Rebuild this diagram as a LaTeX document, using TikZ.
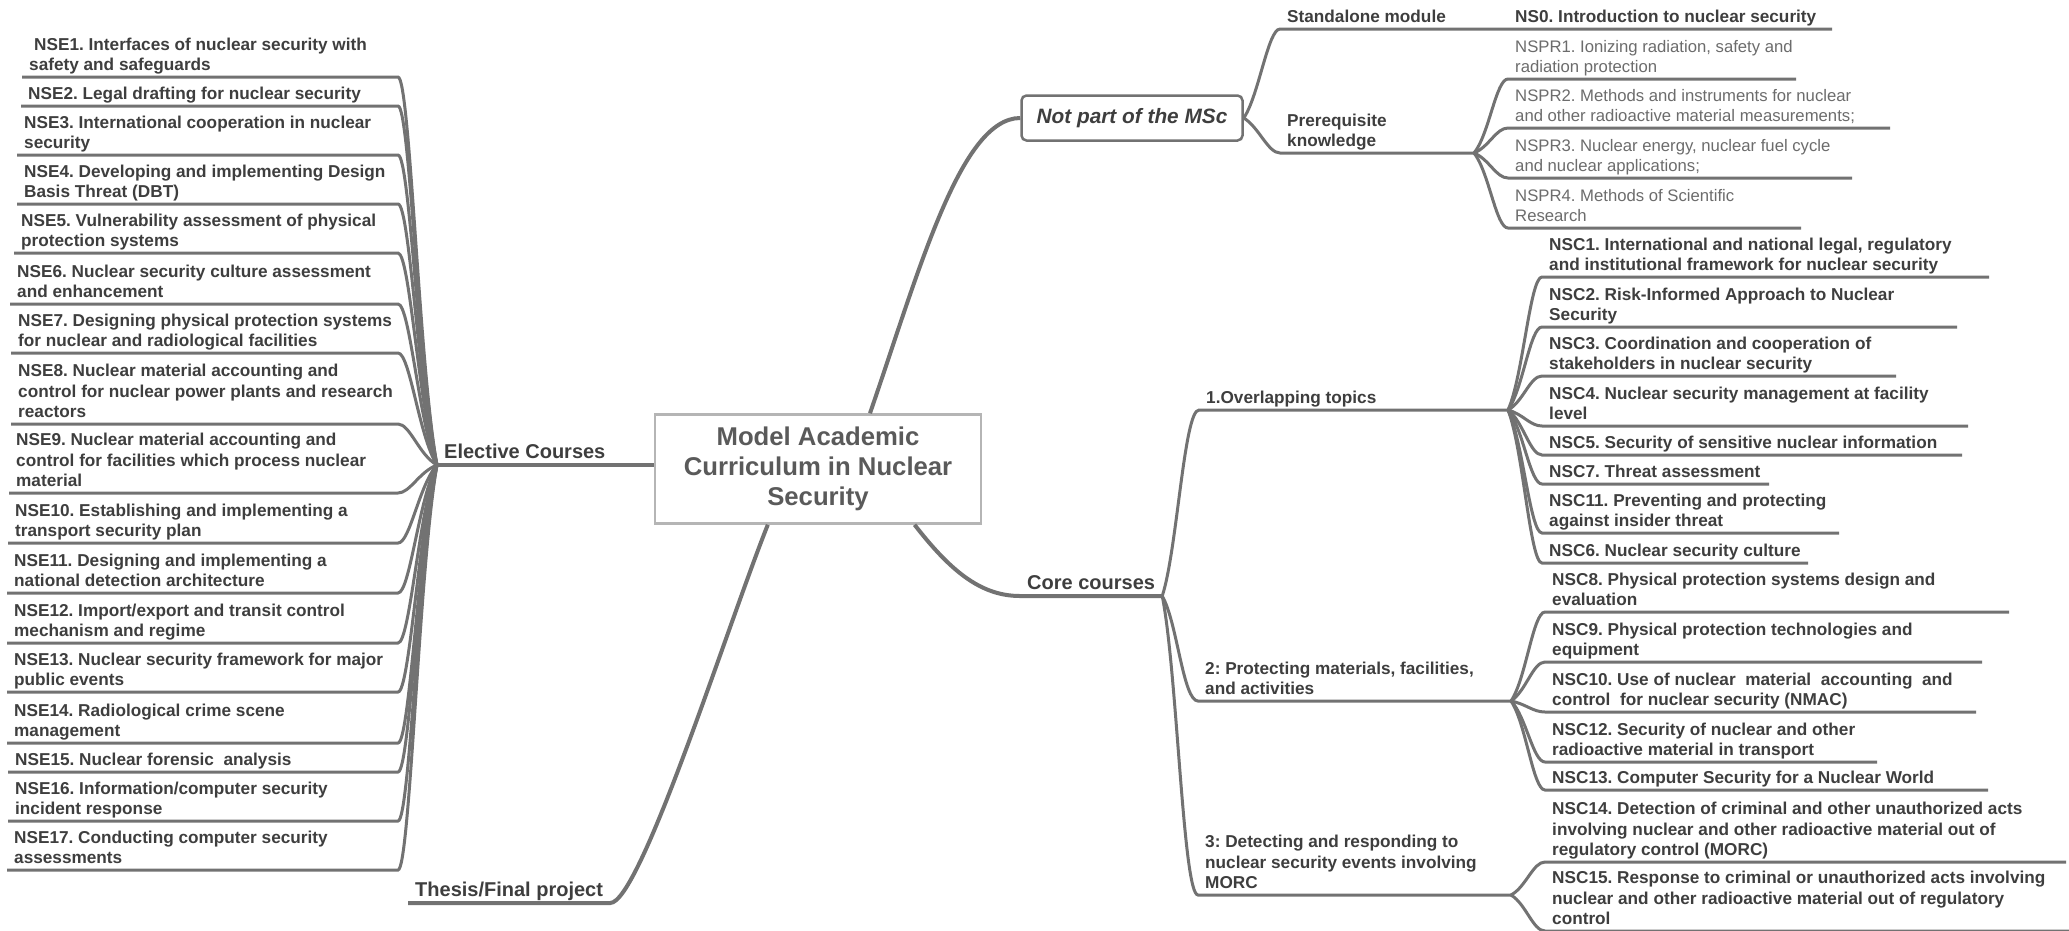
\documentclass[tikz,border=0pt]{standalone}
\usepackage{fontspec}
\setmainfont{Liberation Sans}
\usepackage{xcolor}
\frenchspacing

\definecolor{linegray}{HTML}{727272}
\definecolor{textgray}{HTML}{3E3E3E}
\definecolor{nsprgray}{HTML}{6C6C6C}
\definecolor{boxgray}{HTML}{B5B5B5}
\definecolor{rootgray}{HTML}{5A5A5A}

\begin{document}
\begin{tikzpicture}[
    x=1pt, y=-1pt,
    topic/.style={rectangle, draw=boxgray, line width=2.5pt, fill=white, minimum width=326pt, minimum height=109pt, align=center, font=\fontsize{25.7}{30}\selectfont\bfseries, text=rootgray},
    msc/.style={rectangle, rounded corners=5pt, draw=linegray, line width=2.5pt, fill=white, minimum width=221pt, minimum height=45pt, font=\fontsize{20.8}{24}\selectfont\bfseries\itshape, text=textgray},
    branch/.style={anchor=south west, inner xsep=7pt, inner ysep=0pt, text depth=6pt, font=\fontsize{20}{24}\selectfont\bfseries, text=textgray},
    leaf/.style={anchor=south west, inner xsep=7pt, inner ysep=0pt, text depth=6pt, align=left, font=\fontsize{17.2}{20.5}\selectfont\bfseries, text=textgray},
    nspr/.style={leaf, font=\fontsize{16.7}{20.5}\selectfont, text=nsprgray},
    link/.style={draw=linegray, line width=3pt},
    trunk/.style={link, line width=4pt},
]
\useasboundingbox[fill=white] (0,0) rectangle (2069,930);

\node[topic] (root) at (818,469) {Model Academic\\Curriculum in Nuclear\\Security};
\node[msc] (nmsc) at (1132,118) {Not part of the MSc};

\node[branch] (elec) at (437,465) {Elective Courses};
\node[branch] (thes) at (408,903) {Thesis/Final project};
\node[branch] (core) at (1020,596) {Core courses};

\node[leaf] (stand) at (1280,29) {Standalone module};
\node[leaf] (prq) at (1280,153) {Prerequisite\\knowledge};
\node[leaf] (ovl) at (1199,410) {1.Overlapping topics};
\node[leaf] (prot) at (1198,701) {2: Protecting materials, facilities,\\and activities};
\node[leaf] (dtct) at (1198,895) {3: Detecting and responding to\\nuclear security events involving\\MORC};

\coordinate (eend) at (398,465);
\coordinate (prqhub) at (1474,153);
\coordinate (ovlhub) at (1508,410);
\coordinate (prothub) at (1511,701);
\coordinate (dtcthub) at (1511,895);

% elective courses
\node[leaf] (e1) at (22,77) {\hspace*{5pt}NSE1. Interfaces of nuclear security with\\safety and safeguards};
\node[leaf] (e2) at (21,106) {NSE2. Legal drafting for nuclear security};
\node[leaf] (e3) at (17,155) {NSE3. International cooperation in nuclear\\security};
\node[leaf] (e4) at (17,204) {NSE4. Developing and implementing Design\\Basis Threat (DBT)};
\node[leaf] (e5) at (14,253) {NSE5. Vulnerability assessment of physical\\protection systems};
\node[leaf] (e6) at (10,304) {NSE6. Nuclear security culture assessment\\and enhancement};
\node[leaf] (e7) at (11,353) {NSE7. Designing physical protection systems\\for nuclear and radiological facilities};
\node[leaf] (e8) at (11,424) {NSE8. Nuclear material accounting and\\control for nuclear power plants and research\\reactors};
\node[leaf] (e9) at (9,493) {NSE9. Nuclear material accounting and\\control for facilities which process nuclear\\material};
\node[leaf] (e10) at (8,543) {NSE10. Establishing and implementing a\\transport security plan};
\node[leaf] (e11) at (7,593) {NSE11. Designing and implementing a\\national detection architecture};
\node[leaf] (e12) at (7,643) {NSE12. Import/export and transit control\\mechanism and regime};
\node[leaf] (e13) at (7,692) {NSE13. Nuclear security framework for major\\public events};
\node[leaf] (e14) at (7,743) {NSE14. Radiological crime scene\\management};
\node[leaf] (e15) at (8,772) {NSE15. Nuclear forensic\ \ analysis};
\node[leaf] (e16) at (8,821) {NSE16. Information/computer security\\incident response};
\node[leaf] (e17) at (7,870) {NSE17. Conducting computer security\\assessments};

% not part of the MSc
\node[leaf] (ns0) at (1508,29) {NS0. Introduction to nuclear security};
\node[nspr] (pr1) at (1508,79) {NSPR1. Ionizing radiation, safety and\\radiation protection};
\node[nspr] (pr2) at (1508,128) {NSPR2. Methods and instruments for nuclear\\and other radioactive material measurements;};
\node[nspr] (pr3) at (1508,178) {NSPR3. Nuclear energy, nuclear fuel cycle\\and nuclear applications;};
\node[nspr] (pr4) at (1508,228) {NSPR4. Methods of Scientific\\Research};

% core courses
\node[leaf] (c1) at (1542,277) {NSC1. International and national legal, regulatory\\and institutional framework for nuclear security};
\node[leaf] (c2) at (1542,327) {NSC2. Risk-Informed Approach to Nuclear\\Security};
\node[leaf] (c3) at (1542,376) {NSC3. Coordination and cooperation of\\stakeholders in nuclear security};
\node[leaf] (c4) at (1542,426) {NSC4. Nuclear security management at facility\\level};
\node[leaf] (c5) at (1542,455) {NSC5. Security of sensitive nuclear information};
\node[leaf] (c7) at (1542,484) {NSC7. Threat assessment};
\node[leaf] (c11) at (1542,533) {NSC11. Preventing and protecting\\against insider threat};
\node[leaf] (c6) at (1542,563) {NSC6. Nuclear security culture};
\node[leaf] (c8) at (1545,612) {NSC8. Physical protection systems design and\\evaluation};
\node[leaf] (c9) at (1545,662) {NSC9. Physical protection technologies and\\equipment};
\node[leaf] (c10) at (1545,712) {NSC10. Use of nuclear\ \ material\ \ accounting\ \ and\\control\ \ for nuclear security (NMAC)};
\node[leaf] (c12) at (1545,762) {NSC12. Security of nuclear and other\\radioactive material in transport};
\node[leaf] (c13) at (1545,790) {NSC13. Computer Security for a Nuclear World};
\node[leaf] (c14) at (1545,862) {NSC14. Detection of criminal and other unauthorized acts\\involving nuclear and other radioactive material out of\\regulatory control (MORC)};
\node[leaf] (c15) at (1545,931) {NSC15. Response to criminal or unauthorized acts involving\\nuclear and other radioactive material out of regulatory\\control};

% main branches
\draw[trunk] (elec.south west) -- (elec.south west -| root.west);
\draw[trunk] (root.47) .. controls +(49,-142) and +(-60,0) .. (nmsc.west);
\draw[trunk] (root.330) .. controls +(35,45) and +(-40,0) .. (core.south west) -- (core.south east);
\draw[trunk] (root.228) .. controls +(-40,100) and +(30,0) .. (thes.south east) -- (thes.south west);

\draw[link] (nmsc.east) .. controls +(15,-22) and +(-12,0) .. (stand.south west) -- (ns0.south west) -- ++(324,0);
\draw[link] (nmsc.east) .. controls +(15,9) and +(-12,0) .. (prq.south west) -- (prqhub);
\draw[link] (core.south east) .. controls +(15,-46) and +(-15,0) .. (ovl.south west) -- (ovlhub);
\draw[link] (core.south east) .. controls +(15,26) and +(-15,0) .. (prot.south west) -- (prothub);
\draw[link] (core.south east) .. controls +(15,75) and +(-15,0) .. (dtct.south west) -- (dtcthub);

\draw[link] (elec.south west) .. controls +(-18,-97) and +(12,0) .. (e1.south west -| eend) -- (e1.south west);
\draw[link] (elec.south west) .. controls +(-18,-90) and +(12,0) .. (e2.south west -| eend) -- (e2.south west);
\draw[link] (elec.south west) .. controls +(-18,-78) and +(12,0) .. (e3.south west -| eend) -- (e3.south west);
\draw[link] (elec.south west) .. controls +(-18,-65) and +(12,0) .. (e4.south west -| eend) -- (e4.south west);
\draw[link] (elec.south west) .. controls +(-18,-53) and +(12,0) .. (e5.south west -| eend) -- (e5.south west);
\draw[link] (elec.south west) .. controls +(-18,-40) and +(12,0) .. (e6.south west -| eend) -- (e6.south west);
\draw[link] (elec.south west) .. controls +(-18,-28) and +(12,0) .. (e7.south west -| eend) -- (e7.south west);
\draw[link] (elec.south west) .. controls +(-18,-10) and +(12,0) .. (e8.south west -| eend) -- (e8.south west);
\draw[link] (elec.south west) .. controls +(-18,7) and +(12,0) .. (e9.south west -| eend) -- (e9.south west);
\draw[link] (elec.south west) .. controls +(-18,20) and +(12,0) .. (e10.south west -| eend) -- (e10.south west);
\draw[link] (elec.south west) .. controls +(-18,32) and +(12,0) .. (e11.south west -| eend) -- (e11.south west);
\draw[link] (elec.south west) .. controls +(-18,45) and +(12,0) .. (e12.south west -| eend) -- (e12.south west);
\draw[link] (elec.south west) .. controls +(-18,57) and +(12,0) .. (e13.south west -| eend) -- (e13.south west);
\draw[link] (elec.south west) .. controls +(-18,70) and +(12,0) .. (e14.south west -| eend) -- (e14.south west);
\draw[link] (elec.south west) .. controls +(-18,77) and +(12,0) .. (e15.south west -| eend) -- (e15.south west);
\draw[link] (elec.south west) .. controls +(-18,89) and +(12,0) .. (e16.south west -| eend) -- (e16.south west);
\draw[link] (elec.south west) .. controls +(-18,101) and +(12,0) .. (e17.south west -| eend) -- (e17.south west);

\draw[link] (prqhub) .. controls +(15,-18) and +(-12,0) .. (pr1.south west) -- ++(288,0);
\draw[link] (prqhub) .. controls +(15,-6) and +(-12,0) .. (pr2.south west) -- ++(382,0);
\draw[link] (prqhub) .. controls +(15,6) and +(-12,0) .. (pr3.south west) -- ++(344,0);
\draw[link] (prqhub) .. controls +(15,19) and +(-12,0) .. (pr4.south west) -- ++(293,0);

\draw[link] (ovlhub) .. controls +(15,-33) and +(-12,0) .. (c1.south west) -- ++(447,0);
\draw[link] (ovlhub) .. controls +(15,-21) and +(-12,0) .. (c2.south west) -- ++(415,0);
\draw[link] (ovlhub) .. controls +(15,-8) and +(-12,0) .. (c3.south west) -- ++(354,0);
\draw[link] (ovlhub) .. controls +(15,4) and +(-12,0) .. (c4.south west) -- ++(426,0);
\draw[link] (ovlhub) .. controls +(15,11) and +(-12,0) .. (c5.south west) -- ++(420,0);
\draw[link] (ovlhub) .. controls +(15,18) and +(-12,0) .. (c7.south west) -- ++(227,0);
\draw[link] (ovlhub) .. controls +(15,31) and +(-12,0) .. (c11.south west) -- ++(297,0);
\draw[link] (ovlhub) .. controls +(15,38) and +(-12,0) .. (c6.south west) -- ++(266,0);

\draw[link] (prothub) .. controls +(15,-22) and +(-12,0) .. (c8.south west) -- ++(464,0);
\draw[link] (prothub) .. controls +(15,-10) and +(-12,0) .. (c9.south west) -- ++(437,0);
\draw[link] (prothub) .. controls +(15,3) and +(-12,0) .. (c10.south west) -- ++(431,0);
\draw[link] (prothub) .. controls +(15,15) and +(-12,0) .. (c12.south west) -- ++(332,0);
\draw[link] (prothub) .. controls +(15,22) and +(-12,0) .. (c13.south west) -- ++(443,0);

\draw[link] (dtcthub) .. controls +(15,-8) and +(-12,0) .. (c14.south west) -- ++(521,0);
\draw[link] (dtcthub) .. controls +(15,9) and +(-12,0) .. (c15.south west) -- ++(524,0);

\end{tikzpicture}
\end{document}
